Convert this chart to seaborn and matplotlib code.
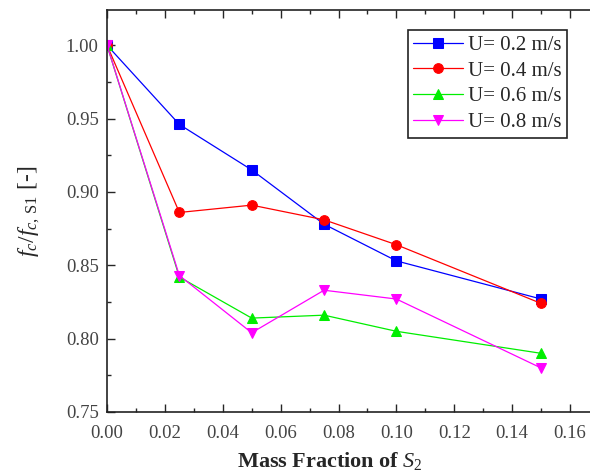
import matplotlib
matplotlib.use("Agg")
import matplotlib.pyplot as plt
import seaborn as sns
import pandas as pd
from matplotlib.ticker import MultipleLocator

mass_fraction = [0.0, 0.025, 0.05, 0.075, 0.10, 0.15]
u02 = [1.000, 0.946, 0.915, 0.878, 0.853, 0.827]
u04 = [1.000, 0.886, 0.891, 0.881, 0.864, 0.824]
u06 = [1.000, 0.842, 0.814, 0.816, 0.805, 0.790]
u08 = [1.000, 0.843, 0.804, 0.833, 0.827, 0.780]
labels = ["U= 0.2 m/s", "U= 0.4 m/s", "U= 0.6 m/s", "U= 0.8 m/s"]
colors = ["#0000ff", "#ff0000", "#00ee00", "#ff00ff"]
markers = ["s", "o", "^", "v"]
xtick_labels = ["0.00", "0.02", "0.04", "0.06", "0.08", "0.10", "0.12", "0.14", "0.16"]
ytick_labels = ["0.75", "0.80", "0.85", "0.90", "0.95", "1.00"]

rows = []
for lab, vals in zip(labels, [u02, u04, u06, u08]):
    for x, y in zip(mass_fraction, vals):
        rows.append({"x": x, "y": y, "U": lab})
df = pd.DataFrame(rows)

sns.set_style("ticks")
plt.rcParams["font.family"] = ["Liberation Serif", "DejaVu Serif"]
plt.rcParams["mathtext.fontset"] = "custom"
plt.rcParams["mathtext.rm"] = "Liberation Serif"
plt.rcParams["mathtext.it"] = "Liberation Serif:italic"
plt.rcParams["mathtext.bf"] = "Liberation Serif:bold"

fig = plt.figure(figsize=(5.9, 4.76), dpi=100)
ax = fig.add_axes([107/590, 64/476, (599-107)/590, (412-10)/476])

sns.lineplot(data=df, x="x", y="y", hue="U", style="U",
             palette=dict(zip(labels, colors)),
             markers=dict(zip(labels, markers)),
             dashes=False, markersize=7, linewidth=0.9,
             markeredgecolor=None, ax=ax)

ax.set_xlim(0, 0.17)
ax.set_ylim(0.75, 1.024)
ax.xaxis.set_minor_locator(MultipleLocator(0.01))
ax.yaxis.set_minor_locator(MultipleLocator(0.025))
ax.set_xticks([float(t) for t in xtick_labels])
ax.set_xticklabels(xtick_labels)
ax.set_yticks([float(t) for t in ytick_labels])
ax.set_yticklabels(ytick_labels)
ax.tick_params(which="both", direction="in", top=True, right=True,
               labelsize=13.5, labelcolor="#444444", width=1)
ax.tick_params(axis="x", which="major", pad=9)
ax.tick_params(axis="y", which="major", pad=6)
ax.tick_params(which="major", length=6)
ax.tick_params(which="minor", length=3)
for s in ax.spines.values():
    s.set_linewidth(1.2)
    s.set_color("#222222")

ax.set_xlabel(r"$\mathbf{Mass\ Fraction\ of}\ \mathit{S}_{\mathit{2}}$", fontsize=16)
ax.xaxis.set_label_coords((330-107)/492, -0.095)
ax.set_ylabel(r"$f_c/f_{c,\,\mathrm{S1}}$ [-]", fontsize=17)
ax.yaxis.set_label_coords(-0.132, 0.5)

handles, labs = ax.get_legend_handles_labels()
leg = ax.legend(handles, labs, loc="upper left", frameon=True, fancybox=False,
                edgecolor="#222222", fontsize=15, handlelength=2.4,
                borderpad=0.25, labelspacing=0.3, handletextpad=0.25,
                borderaxespad=0)
leg.set_bbox_to_anchor((408/590, 1 - 30/476), transform=fig.transFigure)
leg.get_frame().set_linewidth(1.2)
leg.get_frame().set_alpha(1)

fig.savefig("out.png", dpi=100)
